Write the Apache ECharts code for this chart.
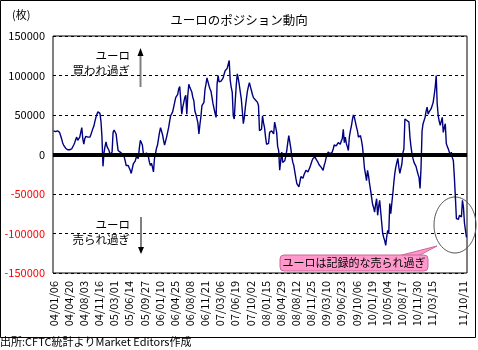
<!DOCTYPE html>
<html>
<head>
<meta charset="utf-8">
<script src="https://cdn.jsdelivr.net/npm/echarts@6/dist/echarts.min.js"></script>
<style>
html,body{margin:0;padding:0;background:#fff;}
#chart{width:478px;height:350px;}
</style>
</head>
<body>
<div id="chart"></div>
<script>
// Weekly euro net positions (contracts), 2004/01/06 - 2011/11/08
const startDate = '2004-01-06';
const weekCount = 410;
const tickLabels = ['04/01/06','04/04/20','04/08/03','04/11/16','05/03/01','05/06/14','05/09/27',
  '06/01/10','06/04/25','06/08/08','06/11/21','07/03/06','07/06/19','07/10/02','08/01/15',
  '08/04/29','08/08/12','08/11/25','09/03/10','09/06/23','09/10/06','10/01/19','10/05/04',
  '10/08/17','10/11/30','11/03/15','11/10/11'];
const yTicks = [-150000,-100000,-50000,0,50000,100000,150000];
const positions = [
30000,31000,29000,28000,30000,29000,28000,24000,20000,15000,12000,10000,8000,7000,6000,
6000,6000,5000,7000,9000,12000,15000,19000,22000,18000,16000,22000,28000,34000,20000,
13000,20000,23000,24000,22000,20000,22000,25000,29000,33000,36000,42000,47000,51000,54000,
56000,52000,42000,22000,-15000,2000,10000,16000,10000,12000,5000,0,1000,3000,28000,
31000,32000,26000,15000,5000,4000,3000,2000,1000,0,-3000,-8000,-14000,-16000,-14000,
-17000,-20000,-24000,-18000,-12000,-10000,-8000,-3000,-1000,-5000,8000,18000,20000,12000,1000,
-2000,-3000,2000,0,-3000,-10000,-14000,-11000,-16000,-22000,-5000,1000,8000,12000,20000,
28000,34000,32000,25000,18000,12000,14000,22000,28000,34000,42000,49000,47000,54000,60000,
66000,72000,70000,76000,83000,86000,87000,51000,60000,66000,72000,75000,51000,75000,89000,
85000,82000,79000,72000,68000,55000,51000,50000,40000,26000,38000,48000,62000,64000,66000,
82000,89000,97000,92000,87000,83000,80000,72000,64000,58000,52000,47000,89000,100000,92000,
90000,93000,95000,97000,102000,106000,108000,109000,110000,119000,94000,85000,79000,49000,45000,
68000,88000,102000,96000,88000,79000,70000,55000,39000,47000,60000,70000,80000,86000,91000,
86000,81000,76000,72000,70000,69000,68000,66000,62000,30000,31000,32000,49000,40000,34000,
22000,13000,11000,14000,28000,29000,30000,28000,26000,41000,35000,28000,10000,5000,-20000,
-8000,3000,-10000,-8000,-8000,-2000,5000,15000,24000,22000,8000,-3000,-10000,-14000,-22000,
-30000,-37000,-39000,-41000,-35000,-28000,-27000,-30000,-26000,-24000,-20000,-21000,-22000,-19000,-16000,
-12000,-8000,-5000,-4000,-3000,-6000,-8000,-10000,-13000,-14000,-16000,-18000,-20000,-14000,-10000,
-4000,0,3000,1000,1000,-1000,3000,7000,12000,13000,11000,13000,15000,14000,13000,
17000,20000,32000,15000,22000,14000,10000,5000,22000,30000,36000,44000,50000,47000,41000,
35000,30000,22000,23000,24000,18000,10000,-3000,-18000,-25000,-33000,-20000,-27000,-37000,-45000,
-54000,-63000,-67000,-73000,-63000,-56000,-77000,-66000,-58000,-72000,-86000,-100000,-105000,-109000,-115000,
-104000,-96000,-100000,-62000,-75000,-62000,-50000,-36000,-24000,-16000,-10000,-5000,-16000,-24000,-18000,
-12000,2000,7000,45000,44000,43000,42000,41000,22000,10000,1000,-5000,-10000,-12000,-15000,
-20000,-25000,-29000,-43000,-16000,30000,39000,43000,47000,55000,60000,51000,54000,56000,58000,
60000,66000,75000,85000,100000,64000,49000,42000,37000,42000,47000,28000,34000,39000,14000,
10000,7000,3000,-1000,3000,-4000,-8000,-29000,-54000,-81000,-83000,-82000,-77000,-78000,-79000,
-58000,-67000,-87000,-96000,-105000
];

function pad(n){return (n<10?'0':'')+n;}
const categories = [];
{
  const t0 = Date.UTC(2004,0,6);
  for (let i = 0; i < weekCount; i++) {
    const d = new Date(t0 + i*7*86400000);
    categories.push(pad(d.getUTCFullYear()%100)+'/'+pad(d.getUTCMonth()+1)+'/'+pad(d.getUTCDate()));
  }
}

const chart = echarts.init(document.getElementById('chart'), null, {renderer:'canvas'});
const JP = '"Noto Sans CJK JP", "Noto Sans", sans-serif';

chart.setOption({
  animation: false,
  backgroundColor: '#fff',
  textStyle: {fontFamily: JP},
  title: {
    text: 'ユーロのポジション動向',
    left: 'center', top: 9,
    textStyle: {fontSize: 12.5, fontWeight: 'normal', color: '#000', fontFamily: JP}
  },
  grid: {left: 53, right: 11, top: 36, bottom: 77, show: true, borderColor: '#000', borderWidth: 1, backgroundColor: 'transparent'},
  xAxis: {
    type: 'category',
    data: categories,
    boundaryGap: true,
    axisLine: {show: false},
    axisTick: {show: false},
    axisLabel: {
      rotate: 90, fontSize: 11, color: '#000', margin: 8, fontFamily: JP,
      interval: function(idx, val){ return tickLabels.indexOf(val) >= 0; }
    },
    splitLine: {show: false}
  },
  yAxis: {
    type: 'value',
    min: yTicks[0], max: yTicks[yTicks.length-1], interval: 50000,
    axisLine: {show: false},
    axisTick: {show: false},
    axisLabel: {
      fontSize: 11, margin: 8, color: '#000', fontFamily: JP,
      formatter: function(v){ return v < 0 ? '{neg|' + v + '}' : String(v); },
      rich: {neg: {color: '#ff0000', fontSize: 11, fontFamily: JP}}
    },
    splitLine: {show: true, lineStyle: {color: '#000', width: 1, type: [3,3]}}
  },
  series: [{
    type: 'line',
    data: positions,
    showSymbol: false,
    symbol: 'none',
    lineStyle: {color: '#000080', width: 1.4},
    markLine: {
      silent: true, symbol: 'none', animation: false,
      label: {show: false},
      lineStyle: {color: '#000', width: 4, type: 'solid'},
      data: [{yAxis: 0}]
    }
  }],
  graphic: [
    {type: 'rect', shape: {x: 0.5, y: 0.5, width: 475, height: 337}, style: {fill: 'none', stroke: '#000', lineWidth: 1}, silent: true},
    {type: 'text', left: 12, top: 9, style: {text: '(枚)', fontSize: 11, fill: '#000', fontFamily: JP}},
    {type: 'text', right: 348, top: 50, style: {text: 'ユーロ', fontSize: 11.5, fill: '#000', fontFamily: JP, align: 'right'}},
    {type: 'text', right: 348, top: 65, style: {text: '買われ過ぎ', fontSize: 11.5, fill: '#000', fontFamily: JP, align: 'right'}},
    {type: 'line', shape: {x1: 140.5, y1: 87, x2: 140.5, y2: 55}, style: {stroke: '#808080', lineWidth: 2}},
    {type: 'polygon', shape: {points: [[137.5,56],[143.5,56],[140.5,48]]}, style: {fill: '#000'}},
    {type: 'text', right: 348, top: 219, style: {text: 'ユーロ', fontSize: 11.5, fill: '#000', fontFamily: JP, align: 'right'}},
    {type: 'text', right: 348, top: 234, style: {text: '売られ過ぎ', fontSize: 11.5, fill: '#000', fontFamily: JP, align: 'right'}},
    {type: 'line', shape: {x1: 141, y1: 217, x2: 141, y2: 248}, style: {stroke: '#808080', lineWidth: 2}},
    {type: 'polygon', shape: {points: [[138,247],[144,247],[141,254]]}, style: {fill: '#000'}},
    {type: 'ellipse', shape: {cx: 455, cy: 225, rx: 21, ry: 28}, style: {fill: 'none', stroke: '#555', lineWidth: 1}},
    {type: 'polygon', shape: {points: [[398,256],[418,256],[437,246]]}, style: {fill: '#ff99cc', stroke: '#cc6699', lineWidth: 1}},
    {type: 'rect', shape: {x: 280, y: 255, width: 148, height: 16, r: 4}, style: {fill: '#ff99cc', stroke: '#cc6699', lineWidth: 1}},
    {type: 'text', x: 354, y: 263, style: {text: 'ユーロは記録的な売られ過ぎ', fontSize: 11, fill: '#000', fontFamily: JP, align: 'center', verticalAlign: 'middle'}},
    {type: 'text', left: 0, top: 336, style: {text: '出所:CFTC統計よりMarket Editors作成', fontSize: 11, fill: '#000', fontFamily: JP}}
  ]
});
</script>
</body>
</html>
